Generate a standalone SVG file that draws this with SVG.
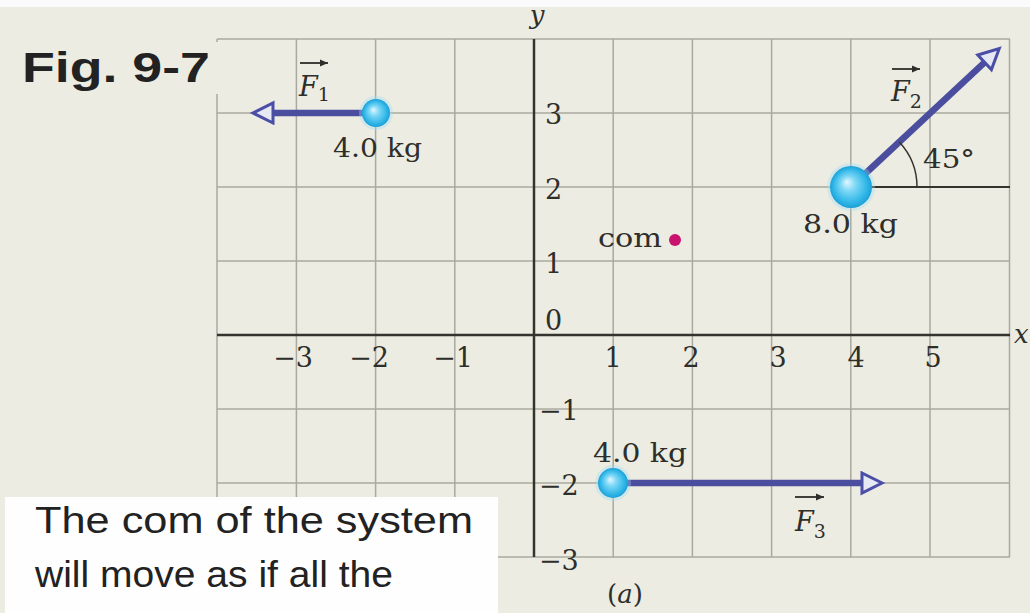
<svg xmlns="http://www.w3.org/2000/svg" width="1030" height="613" viewBox="0 0 1030 613">
<defs>
<style>
.grid{stroke:#a9a9a0;stroke-width:1.5;fill:none}
.axis{stroke:#34342f;stroke-width:2.5;fill:none}
.force{stroke:#4b4e9e;stroke-width:6.5;fill:none;marker-end:url(#head)}
.num{font-family:"DejaVu Serif","Liberation Serif",serif;font-size:27px;fill:#2e2e2a}
.lab{font-family:"DejaVu Serif","Liberation Serif",serif;font-size:26px;fill:#2e2e2a}
.it{font-style:italic}
.fv{font-family:"DejaVu Serif","Liberation Serif",serif;font-size:27px;font-style:italic;fill:#2e2e2a}
.sub{font-size:19px;font-style:normal}
.vec{stroke:#2e2e2a;stroke-width:1.8;fill:none;marker-end:url(#vh)}
.sans{font-family:"Liberation Sans",Arial,sans-serif;fill:#222}
</style>
<marker id="head" markerUnits="userSpaceOnUse" markerWidth="26" markerHeight="26" viewBox="0 0 26 26" refX="2" refY="12" orient="auto">
<path d="M2,2 L22,12 L2,22 Z" fill="#e6e8f4" stroke="#4b4ea6" stroke-width="3" stroke-linejoin="miter"/>
</marker>
<marker id="vh" markerUnits="userSpaceOnUse" markerWidth="10" markerHeight="10" viewBox="0 0 10 10" refX="8" refY="5" orient="auto">
<path d="M0,1.5 L8,5 L0,8.5 Z" fill="#2e2e2a"/>
</marker>
<radialGradient id="ball" cx="50%" cy="50%" r="50%" fx="40%" fy="38%">
<stop offset="0" stop-color="#e4f8ff"/>
<stop offset="0.35" stop-color="#7fd8f6"/>
<stop offset="0.8" stop-color="#2fb6e8"/>
<stop offset="1" stop-color="#1d9fd6"/>
</radialGradient>
</defs>
<rect x="0" y="0" width="1030" height="613" fill="#ecece2"/>
<rect x="0" y="0" width="1030" height="7" fill="#fbfbfd"/>

<g id="grid" class="grid">
<path d="M217,39V557 M296.4,39V557 M375.6,39V557 M454.8,39V557 M613.2,39V557 M692.4,39V557 M771.6,39V557 M850.8,39V557 M930,39V557 M1009.5,39V557"/>
<path d="M217,39H1010 M217,113H1010 M217,187H1010 M217,261H1010 M217,409H1010 M217,483H1010 M217,557H1010"/>
</g>
<rect x="8" y="42" width="212" height="52" fill="#ecece2"/>

<g id="axes">
<path class="axis" d="M217,335H1010"/>
<path class="axis" d="M534,39V557"/>
<text class="lab it" x="537" y="24" text-anchor="middle">y</text>
<text class="lab it" x="1014" y="343" font-size="24">x</text>
</g>

<g id="ticks" class="num">
<text x="545" y="124">3</text>
<text x="545" y="199">2</text>
<text x="545" y="273">1</text>
<text x="545" y="330">0</text>
<text x="539" y="420">−1</text>
<text x="539" y="495">−2</text>
<text x="539" y="570">−3</text>
<text x="313" y="367" text-anchor="end">−3</text>
<text x="389" y="367" text-anchor="end">−2</text>
<text x="473" y="367" text-anchor="end">−1</text>
<text x="613" y="367" text-anchor="middle">1</text>
<text x="691" y="367" text-anchor="middle">2</text>
<text x="778" y="367" text-anchor="middle">3</text>
<text x="856" y="367" text-anchor="middle">4</text>
<text x="933" y="367" text-anchor="middle">5</text>
</g>

<g id="connectors">
<path class="force" d="M376,113H273"/>
<path class="force" d="M851,187L984.6,62.3"/>
<path class="force" d="M613,483H862"/>
<path d="M860,187H1010" stroke="#34342f" stroke-width="2.2"/>
<path d="M917,187A66,66 0 0 0 899.3,142" stroke="#34342f" stroke-width="1.5" fill="none"/>
</g>

<g id="node-m1">
<circle cx="376" cy="113" r="17" fill="#9fe0f6" opacity="0.35"/>
<circle cx="376" cy="113" r="14" fill="url(#ball)"/>
<text class="lab" x="333" y="157" textLength="89" lengthAdjust="spacingAndGlyphs">4.0 kg</text>
<path class="vec" d="M300,63H328"/>
<text class="fv" x="299" y="96">F<tspan class="sub" dy="5">1</tspan></text>
</g>

<g id="node-m2">
<circle cx="851" cy="187" r="24" fill="#9fe0f6" opacity="0.35"/>
<circle cx="851" cy="187" r="21" fill="url(#ball)"/>
<text class="lab" x="803" y="233" textLength="95" lengthAdjust="spacingAndGlyphs">8.0 kg</text>
<text class="lab" x="923" y="168" textLength="52" lengthAdjust="spacingAndGlyphs">45°</text>
<path class="vec" d="M892,69H920"/>
<text class="fv" x="891" y="101">F<tspan class="sub" dy="7">2</tspan></text>
</g>

<g id="node-m3">
<circle cx="613" cy="483" r="18" fill="#9fe0f6" opacity="0.35"/>
<circle cx="613" cy="483" r="15" fill="url(#ball)"/>
<text class="lab" x="593" y="462" textLength="94" lengthAdjust="spacingAndGlyphs">4.0 kg</text>
<path class="vec" d="M795,497H824"/>
<text class="fv" x="795" y="531">F<tspan class="sub" dy="7">3</tspan></text>
</g>

<g id="com">
<text class="lab" x="598" y="247" textLength="64" lengthAdjust="spacingAndGlyphs">com</text>
<circle cx="675" cy="240" r="6" fill="#c8146e"/>
</g>

<text class="lab" x="607" y="603">(<tspan class="it">a</tspan>)</text>

<g id="title">
<text class="sans" x="22" y="82" font-size="42" font-weight="bold" textLength="188" lengthAdjust="spacingAndGlyphs">Fig. 9-7</text>
</g>

<g id="caption">
<rect x="5" y="497" width="493" height="116" fill="#fefefe"/>
<text class="sans" x="35" y="533" font-size="36" textLength="438" lengthAdjust="spacingAndGlyphs">The com of the system</text>
<text class="sans" x="35" y="587" font-size="36" textLength="358" lengthAdjust="spacingAndGlyphs">will move as if all the</text>
</g>
</svg>
